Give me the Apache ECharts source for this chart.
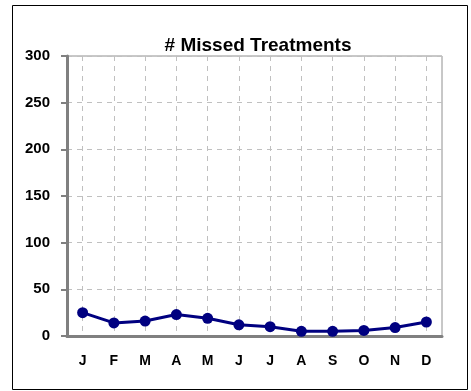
<!DOCTYPE html>
<html>
<head>
<meta charset="utf-8">
<script src="https://cdn.jsdelivr.net/npm/echarts@6/dist/echarts.min.js"></script>
<style>
  html, body { margin: 0; padding: 0; background: #fff; }
  #main { width: 471px; height: 391px; }
</style>
</head>
<body>
<div id="main"></div>
<script>
// months and missed treatment counts
var months = ['J', 'F', 'M', 'A', 'M', 'J', 'J', 'A', 'S', 'O', 'N', 'D'];
var missed = [25, 14, 16, 23, 19, 12, 10, 5, 5, 6, 9, 15];
var yTicks = [0, 50, 100, 150, 200, 250, 300];

var chart = echarts.init(document.getElementById('main'));
chart.setOption({
  backgroundColor: '#fff',
  animation: false,
  graphic: [{
    type: 'rect',
    shape: { x: 12.5, y: 5.5, width: 455, height: 384 },
    style: { fill: 'none', stroke: '#000', lineWidth: 1 }
  }],
  title: {
    text: '# Missed Treatments',
    left: 253,
    textAlign: 'center',
    top: 31,
    textStyle: { fontFamily: 'Arial, "Liberation Sans"', fontWeight: 'bold', fontSize: 19, color: '#000' }
  },
  grid: {
    left: 67, right: 29, top: 56, bottom: 55,
    show: true,
    borderColor: '#909090',
    borderWidth: 1
  },
  xAxis: {
    type: 'category',
    data: months,
    boundaryGap: true,
    axisLine: { lineStyle: { color: '#808080', width: 3 } },
    axisTick: { alignWithLabel: true, length: 6, lineStyle: { color: '#808080', width: 2 } },
    axisLabel: { margin: 18, fontFamily: 'Arial, "Liberation Sans"', fontWeight: 'bold', fontSize: 14, color: '#000' },
    splitLine: { show: true, alignWithLabel: true, lineStyle: { color: '#c0c0c0', type: [5, 5], width: 1 } }
  },
  yAxis: {
    type: 'value',
    min: yTicks[0],
    max: yTicks[yTicks.length - 1],
    interval: 50,
    axisLine: { show: true, lineStyle: { color: '#808080', width: 3 } },
    axisTick: { show: true, length: 6, lineStyle: { color: '#808080', width: 2 } },
    axisLabel: { margin: 17, fontFamily: 'Arial, "Liberation Sans"', fontWeight: 'bold', fontSize: 15, color: '#000' },
    splitLine: { show: true, lineStyle: { color: '#c0c0c0', type: [5, 5], width: 1 } }
  },
  series: [{
    type: 'line',
    data: missed,
    symbol: 'circle',
    symbolSize: 11,
    lineStyle: { color: '#000080', width: 3 },
    itemStyle: { color: '#000080' }
  }]
});
</script>
</body>
</html>
